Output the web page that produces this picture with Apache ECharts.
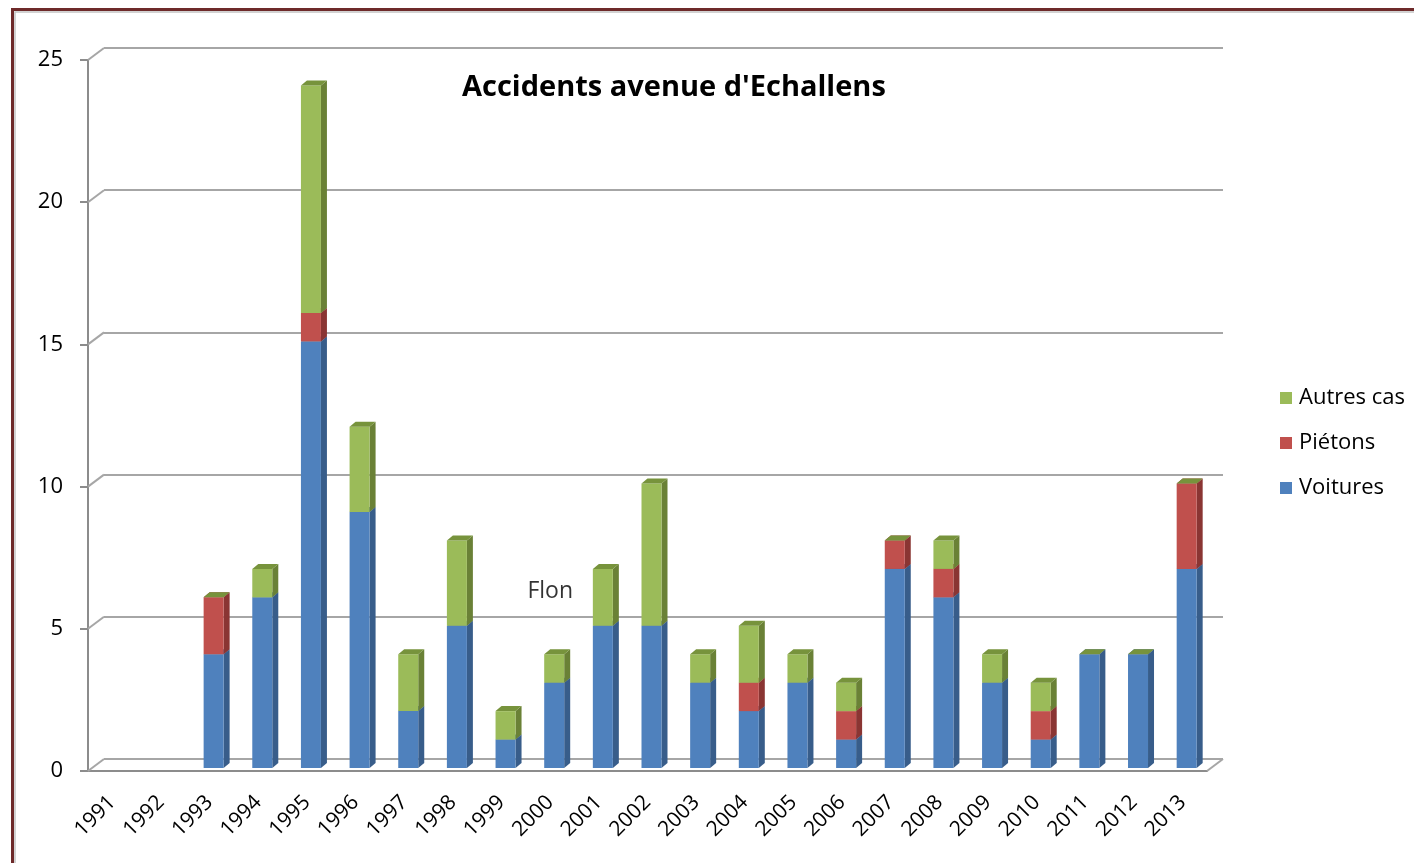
<!DOCTYPE html>
<html>
<head>
<meta charset="utf-8">
<title>Accidents avenue d'Echallens</title>
<script src="https://cdn.jsdelivr.net/npm/echarts@6/dist/echarts.min.js"></script>
<style>
  html, body { margin: 0; padding: 0; background: #fff; }
  #chart { width: 1414px; height: 863px; }
</style>
</head>
<body>
<div id="chart"></div>
<script>
// annees
const years = ['1991', '1992', '1993', '1994', '1995', '1996', '1997', '1998', '1999', '2000', '2001', '2002',
  '2003', '2004', '2005', '2006', '2007', '2008', '2009', '2010', '2011', '2012', '2013'];
// nombre d'accidents par categorie
const voitures  = [0, 0, 4, 6, 15, 9, 2, 5, 1, 3, 5, 5, 3, 2, 3, 1, 7, 6, 3, 1, 4, 4, 7];
const pietons   = [0, 0, 2, 0, 1, 0, 0, 0, 0, 0, 0, 0, 0, 1, 0, 1, 1, 1, 0, 1, 0, 0, 3];
const autresCas = [0, 0, 0, 1, 8, 3, 2, 3, 1, 1, 2, 5, 1, 2, 1, 1, 0, 1, 1, 1, 0, 0, 0];
const yTicks = [0, 5, 10, 15, 20, 25];
// note sur le graphique
const noteYear = '2000';
const noteValue = 6.3;
const noteText = 'Flon';

// pseudo 3D
const BACK_DX = 16, BACK_DY = 12;   // decalage du plan arriere
const BAR_W = 20, BAR_DX = 6, BAR_DY = 5;
const SHIFT_X = 4, SHIFT_Y = -3;

const FONT = '"Open Sans"';

// construit [index, base, sommet] pour empiler
function stackData(values, below) {
  return values.map((v, i) => {
    let base = 0;
    below.forEach(arr => { base += arr[i]; });
    return [i, base, base + v, v];
  });
}

function bar3d(front, side, topColor, alwaysTop) {
  return function (params, api) {
    const i = api.value(0);
    const base = api.value(1);
    const top = api.value(2);
    const v = api.value(3);
    if (v <= 0 && !(alwaysTop && top > 0)) return { type: 'group', children: [] };
    const p0 = api.coord([i, base]);
    const p1 = api.coord([i, top]);
    const x0 = p0[0] - BAR_W / 2 + SHIFT_X;
    const x1 = x0 + BAR_W;
    const yb = p0[1] + SHIFT_Y;
    const yt = p1[1] + SHIFT_Y;
    const children = [];
    if (v > 0) {
      children.push({
        type: 'polygon',
        shape: { points: [[x1, yb], [x1 + BAR_DX, yb - BAR_DY], [x1 + BAR_DX, yt - BAR_DY], [x1, yt]] },
        style: { fill: side }
      });
      children.push({
        type: 'rect',
        shape: { x: x0, y: yt, width: BAR_W, height: yb - yt },
        style: { fill: front }
      });
    }
    children.push({
      type: 'polygon',
      shape: { points: [[x0, yt], [x0 + BAR_DX, yt - BAR_DY], [x1 + BAR_DX, yt - BAR_DY], [x1, yt]] },
      style: { fill: topColor }
    });
    return { type: 'group', children: children };
  };
}

var chartDom = document.getElementById('chart');
var myChart = echarts.init(chartDom);

var option = {
  animation: false,
  backgroundColor: '#fff',
  color: ['#4F81BD', '#C0504D', '#9BBB59'],
  textStyle: { fontFamily: FONT },
  title: {
    text: "Accidents avenue d'Echallens",
    left: 457,
    top: 68,
    textStyle: { fontFamily: FONT, fontSize: 29, fontWeight: 'bold', color: '#000' }
  },
  legend: {
    data: ['Autres cas', 'Piétons', 'Voitures'],
    orient: 'vertical',
    left: 1275,
    top: 382,
    icon: 'rect',
    itemWidth: 12,
    itemHeight: 12,
    itemGap: 23,
    textStyle: { fontFamily: FONT, fontSize: 22, lineHeight: 22, color: '#000', padding: [0, 0, 0, 2] }
  },
  graphic: [
    {
      type: 'rect',
      shape: { x: 12.5, y: 9.5, width: 1600, height: 1000 },
      style: { fill: 'none', stroke: '#6e2a2a', lineWidth: 3 },
      silent: true
    },
    {
      type: 'rect',
      shape: { x: 15, y: 12, width: 1600, height: 1000 },
      style: { fill: 'none', stroke: '#c4c4c4', lineWidth: 1.5 },
      silent: true
    }
  ],
  grid: [
    // plan avant (barres, axes)
    { left: 88, right: 207, top: 60, bottom: 92 },
    // plan arriere (quadrillage)
    { left: 88 + BACK_DX, right: 207 - BACK_DX, top: 60 - BACK_DY, bottom: 92 + BACK_DY }
  ],
  xAxis: [
    {
      type: 'category',
      gridIndex: 0,
      data: years,
      axisLine: { lineStyle: { color: '#8c8c8c', width: 2 } },
      axisTick: { length: 8, lineStyle: { color: '#8c8c8c', width: 2 } },
      axisLabel: { rotate: 45, margin: 28, fontSize: 21, color: '#000', fontFamily: FONT }
    },
    {
      type: 'category',
      gridIndex: 1,
      data: years,
      show: false
    }
  ],
  yAxis: [
    {
      type: 'value',
      gridIndex: 0,
      min: 0,
      max: 25,
      interval: 5,
      splitLine: { show: false },
      axisLine: { show: true, lineStyle: { color: '#8c8c8c', width: 2 } },
      axisTick: { show: true, length: 8, lineStyle: { color: '#8c8c8c', width: 2 } },
      axisLabel: { margin: 25, fontSize: 22, color: '#000', fontFamily: FONT }
    },
    {
      type: 'value',
      gridIndex: 1,
      min: 0,
      max: 25,
      interval: 5,
      axisLine: { show: false },
      axisTick: { show: false },
      axisLabel: { show: false },
      splitLine: { show: true, lineStyle: { color: '#a6a6a6', width: 2 } }
    }
  ],
  series: [
    {
      name: 'frame',
      type: 'custom',
      xAxisIndex: 0,
      yAxisIndex: 0,
      silent: true,
      z: 1,
      data: yTicks.map(v => [0, v]),
      encode: { x: 0, y: 1 },
      renderItem: function (params, api) {
        const cs = params.coordSys;
        const y = api.coord([0, api.value(1)])[1];
        const lines = [{
          type: 'line',
          shape: { x1: cs.x, y1: y, x2: cs.x + BACK_DX, y2: y - BACK_DY },
          style: { stroke: '#a6a6a6', lineWidth: 2 }
        }];
        if (api.value(1) === 0) {
          lines.push({
            type: 'line',
            shape: { x1: cs.x + cs.width, y1: y, x2: cs.x + cs.width + BACK_DX, y2: y - BACK_DY },
            style: { stroke: '#a6a6a6', lineWidth: 2 }
          });
        }
        return { type: 'group', children: lines };
      }
    },
    {
      name: 'Voitures',
      type: 'custom',
      itemStyle: { color: '#4F81BD' },
      z: 3,
      data: stackData(voitures, []),
      encode: { x: 0, y: [1, 2] },
      renderItem: bar3d('#4F81BD', '#385D8A', '#3d6699', false)
    },
    {
      name: 'Piétons',
      type: 'custom',
      itemStyle: { color: '#C0504D' },
      z: 3,
      data: stackData(pietons, [voitures]),
      encode: { x: 0, y: [1, 2] },
      renderItem: bar3d('#C0504D', '#8A3533', '#a0403d', false)
    },
    {
      name: 'Autres cas',
      type: 'custom',
      itemStyle: { color: '#9BBB59' },
      z: 3,
      data: stackData(autresCas, [voitures, pietons]),
      encode: { x: 0, y: [1, 2] },
      renderItem: bar3d('#9BBB59', '#6A8136', '#77933C', true)
    },
    {
      name: 'note',
      type: 'scatter',
      symbolSize: 0,
      silent: true,
      z: 4,
      data: [[noteYear, noteValue]],
      label: {
        show: true,
        position: 'inside',
        formatter: noteText,
        fontFamily: FONT,
        fontSize: 23,
        color: '#000'
      }
    }
  ]
};

myChart.setOption(option);

window.addEventListener('resize', () => {
  myChart.resize();
});
</script>
</body>
</html>
